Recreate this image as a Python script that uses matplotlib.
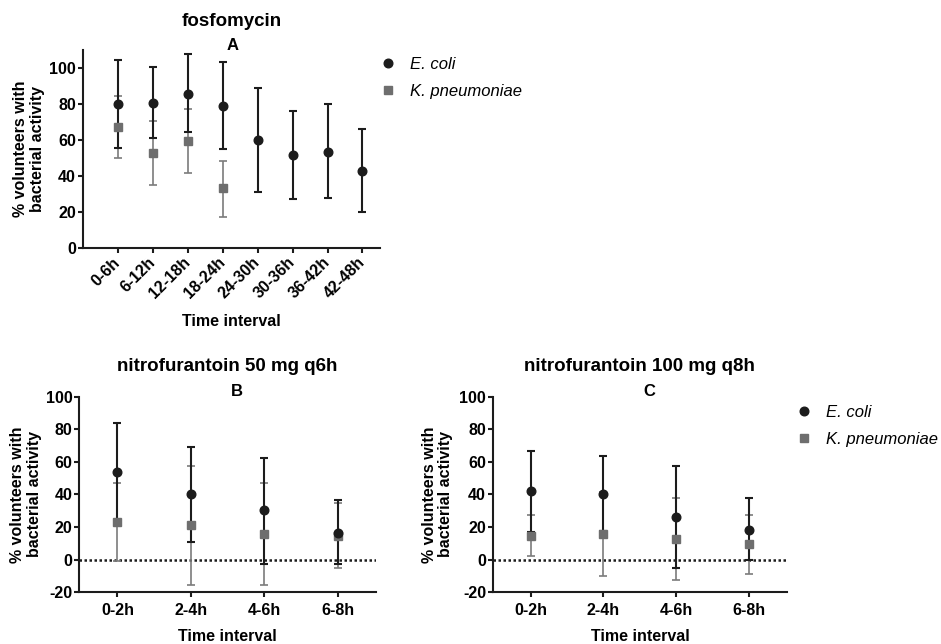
import numpy as np
import matplotlib
matplotlib.use('Agg')
import matplotlib.pyplot as plt
from matplotlib.lines import Line2D

plt.rcParams['font.family'] = ['Liberation Sans', 'DejaVu Sans']
plt.rcParams['font.weight'] = 'bold'
plt.rcParams['axes.labelweight'] = 'bold'
plt.rcParams['axes.unicode_minus'] = False

# Данные
intervals_a = ['0-6h', '6-12h', '12-18h', '18-24h', '24-30h', '30-36h', '36-42h', '42-48h']
ecoli_a = [80.1, 80.6, 85.7, 79.0, 60.0, 51.7, 53.5, 42.8]
ecoli_a_hi = [104.2, 100.5, 107.6, 103.1, 89.0, 76.2, 80.0, 66.0]
ecoli_a_lo = [55.7, 60.8, 64.1, 55.0, 30.9, 27.3, 27.7, 19.9]
kpn_a = [67.1, 52.6, 59.3, 33.1]
kpn_a_hi = [84.6, 70.4, 77.1, 48.2]
kpn_a_lo = [50.0, 35.1, 41.3, 17.3]

intervals_bc = ['0-2h', '2-4h', '4-6h', '6-8h']
ecoli_b = [53.8, 40.1, 30.3, 16.6]
ecoli_b_hi = [83.8, 69.1, 62.5, 36.4]
ecoli_b_lo = [23.3, 10.9, -2.4, -2.8]
kpn_b = [22.9, 21.1, 15.8, 14.5]
kpn_b_hi = [46.8, 57.3, 47.0, 35.0]
kpn_b_lo = [-0.8, -15.3, -15.5, -4.9]

ecoli_c = [42.1, 40.1, 26.4, 18.4]
ecoli_c_hi = [66.8, 63.8, 57.4, 37.6]
ecoli_c_lo = [16.8, 17.4, -4.9, 0.0]
kpn_c = [14.7, 15.8, 12.7, 9.6]
kpn_c_hi = [27.2, 41.4, 37.6, 27.4]
kpn_c_lo = [2.5, -9.8, -12.3, -8.6]

BLACK = '#1c1c1c'
GRAY = '#6e6e6e'
GRAY_ERR = '#7c7c7c'
YLABEL = '% volunteers with\nbacterial activity'


def draw_panel(ax, labels, ec, ec_lo, ec_hi, kp, kp_lo, kp_hi):
    x_ec = np.arange(len(ec))
    x_kp = np.arange(len(kp))
    ec = np.array(ec)
    kp = np.array(kp)
    ax.errorbar(x_kp, kp, yerr=[kp - np.array(kp_lo), np.array(kp_hi) - kp], fmt='none',
                ecolor=GRAY_ERR, elinewidth=1.2, capsize=2.8, capthick=1.2, zorder=2)
    ax.errorbar(x_ec, ec, yerr=[ec - np.array(ec_lo), np.array(ec_hi) - ec], fmt='none',
                ecolor=BLACK, elinewidth=1.5, capsize=2.8, capthick=1.5, zorder=3)
    ax.plot(x_kp, kp, 's', color=GRAY, markersize=5.3, zorder=4, clip_on=False)
    ax.plot(x_ec, ec, 'o', color=BLACK, markersize=6.2, zorder=5, clip_on=False)
    ax.set_xticks(np.arange(len(labels)))
    ax.set_xticklabels(labels)
    for side in ['top', 'right']:
        ax.spines[side].set_visible(False)
    for side in ['left', 'bottom']:
        ax.spines[side].set_linewidth(1.5)
        ax.spines[side].set_color(BLACK)
    ax.tick_params(axis='both', length=3.8, width=1.5, color=BLACK, labelsize=11.5)
    ax.tick_params(axis='y', pad=1)
    ax.set_ylabel(YLABEL, fontsize=11.5, va='center', ha='center', linespacing=1.15)
    ax.set_xlabel('Time interval', fontsize=11.5, va='center')


fig = plt.figure(figsize=(9.41, 6.44), dpi=100)

ax_a = fig.add_axes([0.0879, 0.6154, 0.3159, 0.3070])
ax_b = fig.add_axes([0.0843, 0.0803, 0.3150, 0.3037])
ax_c = fig.add_axes([0.5236, 0.0803, 0.3128, 0.3037])

# Панель A
draw_panel(ax_a, intervals_a, ecoli_a, ecoli_a_lo, ecoli_a_hi, kpn_a, kpn_a_lo, kpn_a_hi)
ax_a.set_xlim(-1, 7.5)
ax_a.set_ylim(0, 110)
ax_a.set_yticks([0, 20, 40, 60, 80, 100])
for lab in ax_a.get_xticklabels():
    lab.set_rotation(45)
    lab.set_ha('right')
    lab.set_va('center')
    lab.set_rotation_mode('anchor')
ax_a.tick_params(axis='x', pad=5)
ax_a.yaxis.set_label_coords(-0.182, 0.5)
ax_a.xaxis.set_label_coords(0.5, -0.371)
ax_a.text(0.5, 1.145, 'fosfomycin', transform=ax_a.transAxes, ha='center', va='center',
          fontsize=13.5, fontweight='bold')
ax_a.text(0.5055, 1.022, 'A', transform=ax_a.transAxes, ha='center', va='center',
          fontsize=12, fontweight='bold')

# Панели B и C
for ax, title, letter, ec, ec_lo, ec_hi, kp, kp_lo, kp_hi, ylx in [
    (ax_b, 'nitrofurantoin 50 mg q6h', 'B', ecoli_b, ecoli_b_lo, ecoli_b_hi, kpn_b, kpn_b_lo, kpn_b_hi, -0.18),
    (ax_c, 'nitrofurantoin 100 mg q8h', 'C', ecoli_c, ecoli_c_lo, ecoli_c_hi, kpn_c, kpn_c_lo, kpn_c_hi, -0.1876),
]:
    draw_panel(ax, intervals_bc, ec, ec_lo, ec_hi, kp, kp_lo, kp_hi)
    ax.axhline(0, color=BLACK, linestyle=(0, (1, 1)), linewidth=1.8, zorder=1)
    ax.set_xlim(-0.52, 3.52)
    ax.set_ylim(-20, 100)
    ax.set_yticks([-20, 0, 20, 40, 60, 80, 100])
    ax.tick_params(axis='x', pad=4)
    ax.yaxis.set_label_coords(ylx, 0.5)
    ax.xaxis.set_label_coords(0.5, -0.227)
    ax.text(0.5, 1.155, title, transform=ax.transAxes, ha='center', va='center',
            fontsize=13.5, fontweight='bold')
    ax.text(0.532, 1.028, letter, transform=ax.transAxes, ha='center', va='center',
            fontsize=12, fontweight='bold')

# Легенды
handles = [
    Line2D([], [], marker='o', linestyle='none', color=BLACK, markersize=6.2),
    Line2D([], [], marker='s', linestyle='none', color=GRAY, markersize=5.3),
]
names = ['E. coli', 'K. pneumoniae']
for ax, anchor in [(ax_a, (1.0, 0.964)), (ax_c, (1.03, 0.958))]:
    ax.legend(handles, names, loc='upper left', bbox_to_anchor=anchor, frameon=False,
              prop={'style': 'italic', 'weight': 'normal', 'size': 12},
              handlelength=1.0, handletextpad=0.8, labelspacing=0.72,
              borderpad=0, borderaxespad=0)

fig.savefig('out.png', dpi=100)
